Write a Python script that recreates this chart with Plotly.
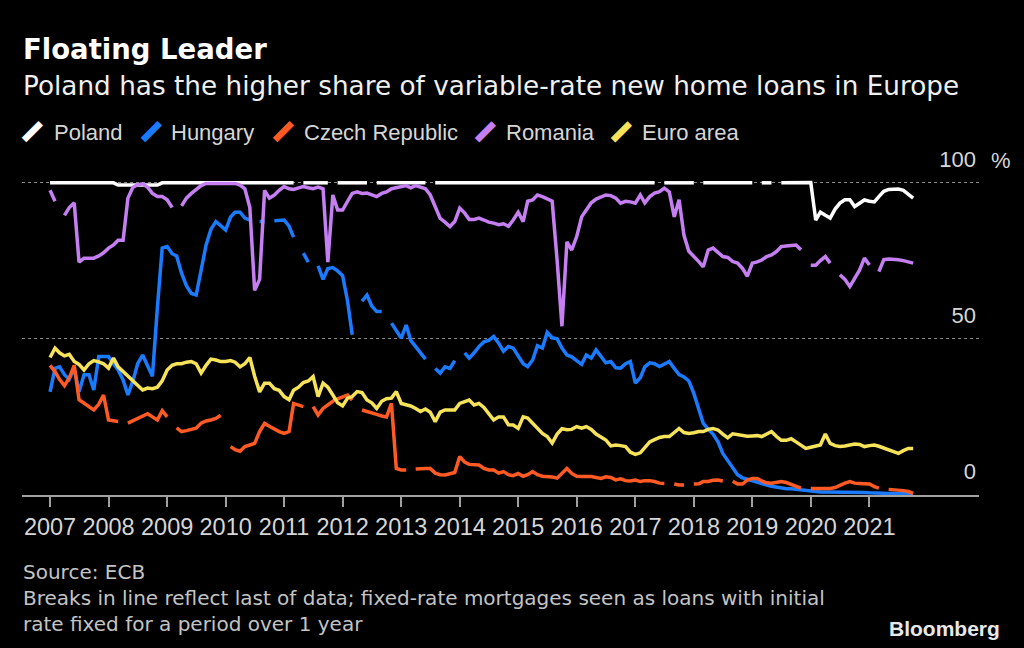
import pandas as pd
import plotly.graph_objects as go

# monthly observations, Jan 2007 .. Oct 2021 (None = no data for that month)
months = pd.date_range("2007-01-01", "2021-10-01", freq="MS")
year_ticks = ["2007-01-01", "2008-01-01", "2009-01-01", "2010-01-01", "2011-01-01",
              "2012-01-01", "2013-01-01", "2014-01-01", "2015-01-01", "2016-01-01",
              "2017-01-01", "2018-01-01", "2019-01-01", "2020-01-01", "2021-01-01"]
year_labels = ["2007", "2008", "2009", "2010", "2011", "2012", "2013", "2014",
               "2015", "2016", "2017", "2018", "2019", "2020", "2021"]

poland = [
    99.9, 99.9, 99.9, 99.9, 99.9, 99.9, 99.9, 99.9, 99.9, 99.9, 99.9, 99.9,
    99.9, 99.9, 99.2, 99.2, 99.2, 99.2, 99.2, 99.2, 99.2, 99.2, 99.2, 99.9,
    99.9, 99.9, 99.9, 99.9, 99.9, 99.9, 99.9, 99.9, 99.9, 99.9, 99.9, 99.9,
    99.9, 99.9, 99.9, 99.9, 99.9, 99.9, 99.9, 99.9, 99.9, 99.9, 99.9, 99.9,
    99.9, 99.9, 99.9, None, 99.9, 99.9, 99.9, 99.9, 99.9, 99.9, None, 99.9,
    99.9, 99.9, 99.9, 99.9, 99.9, 99.9, None, 99.9, 99.9, 99.9, 99.9, 99.9,
    99.9, 99.9, 99.9, 99.9, 99.9, 99.9, None, 99.9, 99.9, 99.9, 99.9, 99.9,
    99.9, 99.9, 99.9, 99.9, 99.9, 99.9, 99.9, 99.9, 99.9, 99.9, 99.9, 99.9,
    99.9, 99.9, 99.9, 99.9, 99.9, 99.9, 99.9, 99.9, 99.9, 99.9, 99.9, 99.9,
    99.9, 99.9, 99.9, 99.9, 99.9, 99.9, 99.9, 99.9, 99.9, 99.9, 99.9, 99.9,
    99.9, 99.9, 99.9, 99.9, 99.9, None, 99.9, 99.9, 99.9, 99.9, 99.9, 99.9,
    99.9, None, 99.9, 99.9, 99.9, 99.9, 99.9, 99.9, 99.9, 99.9, 99.9, 99.9,
    99.9, None, 99.9, 99.9, 99.9, None, 99.9, 99.9, 99.9, 99.9, 99.9, 99.9,
    100.0, 88.0, 90.5, 89.5, 88.6, 91.5, 93.4, 94.5, 94.5, 92.3, 93.5, 94.4,
    94.0, 93.8, 95.5, 97.2, 97.8, 97.9, 97.9, 97.5, 96.3, 95.0,
]

hungary = [
    33.0, 40.5, 41.0, 38.5, 37.0, 40.5, 33.0, 38.5, 38.5, 33.6, 44.3, 44.3,
    44.3, 42.0, 40.0, 36.8, 32.0, 36.5, 42.0, 44.8, 41.0, 38.0, 60.0, 79.0,
    79.5, 77.2, 76.5, 71.0, 67.0, 64.5, 64.0, 72.0, 80.0, 85.0, 87.5, 86.2,
    84.8, 89.0, 90.5, 90.5, 88.6, 88.0, None, 87.5, 87.5, None, 87.8, 88.0,
    88.0, 86.0, 82.5, None, 77.4, 74.5, None, 73.3, 69.0, 72.5, 72.8, 71.7,
    70.2, 62.0, 51.3, None, 62.0, 64.0, 60.5, 58.7, 58.7, None, 55.0, 52.8,
    50.2, 54.4, 49.5, 47.5, 45.5, 43.5, None, 40.5, 39.0, 41.0, 40.5, 43.0,
    None, 45.5, 43.8, 45.5, 47.5, 49.0, 49.5, 50.7, 48.6, 46.0, 47.5, 47.0,
    44.3, 42.0, 41.1, 43.2, 47.8, 47.0, 52.0, 50.3, 50.0, 47.0, 44.8, 44.2,
    43.0, 41.8, 44.8, 43.8, 46.4, 44.3, 42.3, 42.7, 40.7, 40.6, 42.0, 42.7,
    35.8, 37.5, 41.0, 42.3, 42.0, 41.1, 41.8, 42.7, 40.5, 38.5, 37.8, 36.5,
    32.5, 27.0, 22.9, 21.0, 19.5, 17.0, 13.3, 11.0, 8.6, 6.5, 5.5, 5.0,
    4.5, 4.0, 3.5, 3.2, 2.8, 2.5, 2.2, 2.0, 2.0, 1.8, 1.6, 1.4,
    1.2, 1.1, 1.0, 1.0, 1.0, 1.0, 1.0, 1.0, 1.0, 0.9, 0.8, 0.8,
    0.7, 0.6, 0.6, 0.6, 0.5, 0.5, 0.5, 0.4, 0.4, 0.3,
]

czech_republic = [
    41.5, 39.5, 37.0, 35.0, 37.5, 41.5, 30.5, 29.3, 28.2, 27.2, 29.0, 32.0,
    24.0, 23.6, 23.5, None, 23.0, 23.8, 24.6, 25.4, 26.0, 25.0, 24.0, 27.0,
    25.0, None, 21.5, 20.3, 20.6, 21.0, 21.4, 23.0, 23.7, 24.0, 24.5, 25.5,
    None, 15.5, 14.5, 14.0, 15.5, 16.0, 16.5, 20.3, 22.9, 22.0, 21.0, 20.3,
    19.7, 20.3, 29.3, 28.8, 28.3, None, 28.3, 25.6, 27.7, 29.0, 30.0, 30.8,
    31.5, 32.0, 30.4, None, 27.2, 26.8, 26.2, 25.8, 25.3, 25.0, 29.3, 8.5,
    8.0, 8.0, None, 8.3, 8.5, 8.5, 8.5, 7.0, 6.5, 6.4, 6.8, 7.2,
    12.3, 10.5, 9.8, 9.6, 9.6, 8.5, 8.0, 8.0, 7.0, 7.5, 6.5, 6.2,
    6.9, 6.0, 6.5, 7.5, 6.5, 6.0, 5.9, 5.8, 5.4, 7.0, 8.5, 6.9,
    6.0, 5.9, 5.9, 5.9, 5.6, 5.3, 5.8, 5.6, 4.8, 5.2, 4.6, 4.5,
    4.8, 4.3, 4.6, 4.6, 4.3, 3.8, 3.7, None, 3.5, 3.2, 3.2, None,
    3.5, 3.6, 4.3, 4.3, 4.7, 4.8, 4.5, None, 4.4, 3.5, 3.5, 4.8,
    5.3, 5.3, 4.5, 3.9, 3.8, 4.2, 4.3, 4.0, 3.4, 2.8, 2.2, None,
    2.1, 2.1, 2.1, 2.1, 2.1, 2.4, 3.2, 3.8, 4.3, 3.8, 3.7, 3.7,
    3.5, 2.7, 2.2, None, 1.8, 1.7, 1.6, 1.4, 1.1, 0.5,
]

romania = [
    97.5, 94.0, None, 89.5, 92.0, 93.5, 74.5, 75.8, 75.8, 75.8, 76.5, 77.5,
    79.0, 80.0, 81.5, 81.5, 95.0, 98.5, 99.3, 99.6, 98.5, 96.5, 95.5, 95.5,
    94.5, 92.0, None, 92.5, 95.0, 96.5, 97.8, 99.0, 99.7, 99.7, 99.7, 99.7,
    99.7, 99.7, 99.7, 99.2, 98.0, 92.0, 65.5, 69.0, 97.5, 95.0, 96.0, 97.5,
    98.7, 98.0, 97.8, 98.3, 98.7, 98.3, 98.0, 98.5, 98.0, 74.5, 96.0, 91.2,
    91.2, 94.0, 96.5, 97.0, 96.5, 96.6, 96.2, 95.5, 96.5, 97.0, 98.0, 98.3,
    98.7, 99.0, 98.3, 99.0, 98.5, 98.0, 96.0, 92.0, 88.5, 87.3, 85.9, 87.5,
    91.8, 90.2, 88.2, 88.2, 88.6, 88.0, 87.3, 87.0, 86.5, 86.8, 86.0, 88.0,
    90.5, 87.5, 94.0, 94.4, 96.0, 95.5, 94.8, 94.0, 75.0, 54.0, 81.0, 78.4,
    82.7, 89.0, 91.2, 93.5, 94.7, 95.5, 96.0, 95.8, 95.0, 93.4, 94.0, 93.8,
    93.4, 96.0, 93.5, 95.5, 96.6, 97.1, 98.2, 97.0, 89.0, 94.5, 83.0, 78.0,
    76.5, 74.7, 73.0, 78.4, 79.0, 77.5, 76.3, 76.0, 74.7, 74.2, 72.5, 70.0,
    74.2, 74.6, 75.2, 76.3, 76.8, 77.9, 79.5, 79.7, 79.9, 80.0, 78.5, None,
    73.5, 73.5, 75.0, 76.3, 74.2, None, 70.5, 69.0, 66.7, 69.4, 72.0, 75.8,
    73.6, None, 71.5, 75.3, 75.5, 75.5, 75.3, 75.0, 74.7, 74.2,
]

euro_area = [
    44.0, 47.0, 45.5, 44.5, 45.0, 42.7, 41.8, 40.0, 42.0, 43.0, 42.6, 42.0,
    40.6, 43.8, 41.0, 39.5, 38.0, 36.2, 34.8, 33.6, 34.2, 34.0, 34.5, 36.5,
    40.0, 41.5, 42.0, 42.0, 42.5, 42.7, 42.0, 39.0, 41.5, 43.5, 43.2, 42.7,
    42.7, 43.0, 42.5, 41.0, 42.0, 44.0, 38.0, 33.0, 35.8, 35.8, 34.0, 33.5,
    31.5, 30.5, 33.5, 34.5, 36.0, 36.5, 37.9, 31.5, 35.8, 34.5, 32.0, 29.5,
    28.5, 31.0, 31.5, 33.1, 32.8, 30.4, 29.5, 27.7, 30.0, 30.8, 31.0, 33.1,
    29.3, 29.0, 28.5, 27.7, 26.7, 27.5, 26.5, 23.5, 26.5, 27.2, 27.2, 27.2,
    29.3, 30.0, 30.4, 28.8, 29.3, 28.0, 26.0, 24.0, 25.0, 25.0, 22.5, 22.4,
    21.3, 25.0, 24.6, 23.0, 21.5, 19.7, 18.7, 16.6, 19.5, 21.2, 20.9, 21.0,
    21.9, 21.4, 21.9, 21.0, 19.5, 18.4, 17.6, 15.7, 16.0, 15.8, 15.5, 13.7,
    13.0, 13.5, 15.0, 17.0, 17.7, 18.4, 18.7, 18.7, 20.0, 21.3, 20.0, 19.7,
    19.9, 20.3, 20.3, 21.0, 21.3, 20.8, 19.5, 18.3, 19.6, 19.3, 19.2, 18.8,
    18.9, 19.0, 18.7, 19.5, 20.3, 18.7, 17.5, 17.5, 18.0, 17.0, 15.8, 14.9,
    15.3, 15.6, 16.0, 19.5, 16.5, 15.8, 15.5, 15.7, 16.0, 16.3, 16.2, 15.5,
    15.8, 16.0, 15.6, 15.0, 14.4, 13.8, 13.3, 14.2, 14.9, 14.9,
]

series = [
    ("Poland", poland, "#ffffff"),
    ("Hungary", hungary, "#1a7bff"),
    ("Czech Republic", czech_republic, "#ff5a24"),
    ("Romania", romania, "#c57ff2"),
    ("Euro area", euro_area, "#f7e35a"),
]

FONT = "Liberation Sans, Arial, sans-serif"
WIDE = "DejaVu Sans, Verdana, sans-serif"
W, H = 1024, 648
# plot box: top margin leaves room above the 100 line for its inside label
L, R, T, B = 22, 45, 145, 153
Y_TOP = 112


def fx(px):
    """pixel x -> paper fraction"""
    return (px - L) / (W - L - R)


def fy(py):
    """pixel y -> paper fraction"""
    return (H - B - py) / (H - T - B)


fig = go.Figure()
for name, vals, color in series:
    fig.add_trace(go.Scatter(
        x=months, y=vals, name=name, mode="lines",
        line=dict(color=color, width=3.5),
        connectgaps=False, showlegend=False, hoverinfo="skip",
    ))

annotations = [
    dict(x=fx(21), y=fy(49), text="<b>Floating Leader</b>",
         font=dict(size=27.5, color="#ffffff", family=WIDE)),
    dict(x=fx(21), y=fy(86),
         text="Poland has the higher share of variable-rate new home loans in Europe",
         font=dict(size=26.3, color="#f0f0f0", family=WIDE)),
    dict(x=fx(989), y=fy(160), text="%", font=dict(size=22, color="#d6d6d6")),
    dict(x=fx(21), y=fy(558), yanchor="top", align="left",
         text="Source: ECB<br>Breaks in line reflect last of data; fixed-rate mortgages "
              "seen as loans with initial<br>rate fixed for a period over 1 year",
         font=dict(size=20, color="#c4c4c4", family=WIDE)),
    dict(x=fx(1002), y=fy(628), xanchor="right", text="<b>Bloomberg</b>",
         font=dict(size=21, color="#e8e8e8")),
]

# legend: coloured slash + name
legend_slash_x = [32, 151, 283, 485.5, 621.5]
legend_text_x = [52, 169, 301.5, 504, 640]
for (name, vals, color), sx, tx in zip(series, legend_slash_x, legend_text_x):
    annotations.append(dict(x=fx(sx), y=fy(132), xanchor="center", text="━",
                            textangle=-45,
                            font=dict(size=38, color=color, family="DejaVu Sans")))
    annotations.append(dict(x=fx(tx), y=fy(132), text=name,
                            font=dict(size=22, color="#d6d6d6")))

for a in annotations:
    a.setdefault("xref", "paper")
    a.setdefault("yref", "paper")
    a.setdefault("xanchor", "left")
    a.setdefault("yanchor", "middle")
    a.setdefault("showarrow", False)

fig.update_layout(
    width=W, height=H,
    margin=dict(l=L, r=R, t=T, b=B),
    paper_bgcolor="#000000",
    plot_bgcolor="#000000",
    font=dict(family=FONT, color="#d6d6d6"),
    annotations=annotations,
    showlegend=False,
)

fig.update_xaxes(
    type="date",
    range=["2006-07-10", "2022-11-16"],
    tickmode="array", tickvals=year_ticks, ticktext=year_labels,
    tickangle=0,
    ticks="outside", ticklen=10, tickwidth=1.5, tickcolor="#a0a0a0",
    showline=True, linecolor="#a0a0a0", linewidth=2,
    showgrid=False, zeroline=False,
    tickfont=dict(size=23.5, color="#d6d6d6"),
)

fig.update_yaxes(
    range=[0, Y_TOP],
    side="right",
    tickmode="array", tickvals=[0, 50, 100], ticktext=["0", "50", "100"],
    ticklabelposition="inside top", ticklabelshift=-8,
    ticks="", showline=False, zeroline=False,
    showgrid=True, gridcolor="#8a8a8a", gridwidth=1, griddash="dot",
    tickfont=dict(size=22, color="#d6d6d6"),
)

# the page is photographed edge to edge, so drop the default body margin
fig.write_html("out.html",
               config={"displayModeBar": False},
               post_script="document.body.style.margin='0';"
                           "document.body.style.background='#000';")
